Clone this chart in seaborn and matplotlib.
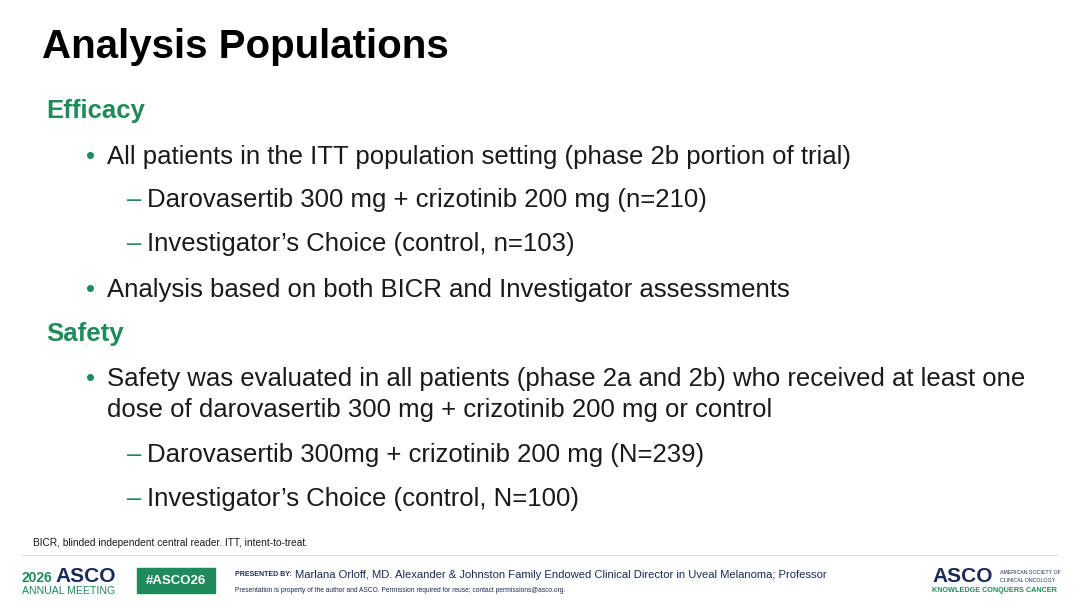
import matplotlib
matplotlib.use("Agg")
import matplotlib.pyplot as plt
import seaborn as sns

sns.set_theme(style="white")
plt.rcParams["font.family"] = ["Liberation Sans", "DejaVu Sans"]

# slide content
title = "Analysis Populations"
headings = ["Efficacy", "Safety"]
efficacy_lines = [
    (1, ["All patients in the ITT population setting (phase 2b portion of trial)"]),
    (2, ["Darovasertib 300 mg + crizotinib 200 mg (n=210)"]),
    (2, ["Investigator\u2019s Choice (control, n=103)"]),
    (1, ["Analysis based on both BICR and Investigator assessments"]),
]
safety_lines = [
    (1, ["Safety was evaluated in all patients (phase 2a and 2b) who received at least one",
         "dose of darovasertib 300 mg + crizotinib 200 mg or control"]),
    (2, ["Darovasertib 300mg + crizotinib 200 mg (N=239)"]),
    (2, ["Investigator\u2019s Choice (control, N=100)"]),
]
footnote = "BICR, blinded independent central reader. ITT, intent-to-treat."
presenter = "Marlana Orloff, MD. Alexander & Johnston Family Endowed Clinical Director in Uveal Melanoma; Professor"
permission = "Presentation is property of the author and ASCO. Permission required for reuse; contact permissions@asco.org."

green = "#1f8a5b"
navy = "#1b2a57"
ink = "#1a1a1a"
body = 18.5

fig = plt.figure(figsize=(10.8, 6.08), dpi=100)
ax = fig.add_axes([0, 0, 1, 1])
ax.set_xlim(0, 1080)
ax.set_ylim(608, 0)
ax.axis("off")

ax.text(42, 47, title, fontsize=29, fontweight="bold", color="black", va="center")


def draw_section(y_head, heading, lines, ys):
    ax.text(46, y_head, heading, fontsize=18.5, fontweight="bold", color=green, va="center")
    for (level, parts), y in zip(lines, ys):
        x_mark, x_txt, mark = (86, 107, "\u2022") if level == 1 else (127, 147, "\u2013")
        ax.text(x_mark, y, mark, fontsize=body, color=green, va="center")
        for i, part in enumerate(parts):
            ax.text(x_txt, y + 31 * i, part, fontsize=body, color=ink, va="center")


draw_section(111, headings[0], efficacy_lines, [157, 200, 244, 290])
draw_section(334, headings[1], safety_lines, [379, 455, 499])

ax.text(33, 543, footnote, fontsize=7.3, color=ink, va="center")
ax.plot([22, 1058], [555, 555], color="#dddddd", lw=0.8)

# footer left
ax.text(22, 578, "2026", fontsize=10, fontweight="bold", color=green, va="center")
ax.text(55, 577, "ASCO", fontsize=15, fontweight="bold", color=navy, va="center")
ax.text(22, 591, "ANNUAL MEETING", fontsize=7.6, color=green, va="center")
ax.add_patch(plt.Rectangle((137, 568), 78, 25, color=green))
ax.text(176, 580.5, "#ASCO26", fontsize=9.5, fontweight="bold", color="white",
        va="center", ha="center")
ax.text(235, 575, "PRESENTED BY:", fontsize=5.0, fontweight="bold", color=navy, va="center")
ax.text(295, 575, presenter, fontsize=8.1, color=navy, va="center")
ax.text(235, 591, permission, fontsize=4.8, color=navy, va="center")

# footer right
ax.text(932, 577, "ASCO", fontsize=15, fontweight="bold", color=navy, va="center")
ax.text(1000, 573, "AMERICAN SOCIETY OF", fontsize=3.8, color=navy, va="center")
ax.text(1000, 580, "CLINICAL ONCOLOGY", fontsize=3.8, color=navy, va="center")
ax.text(932, 591, "KNOWLEDGE CONQUERS CANCER", fontsize=5.2, fontweight="bold",
        color=green, va="center")

fig.savefig("out.png", dpi=100, facecolor="white")
